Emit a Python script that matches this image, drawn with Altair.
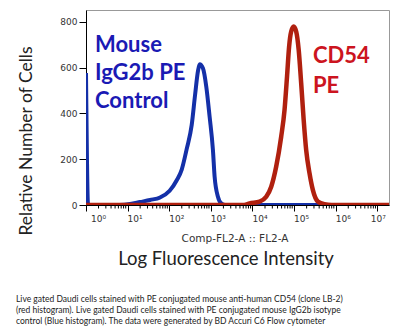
import math
import altair as alt
import pandas as pd

# ---- data (x in log10 units of FL2-A, y = cell counts) ----
blue_log = [0.00, 0.05, 0.80, 1.06, 1.30, 1.54, 1.78, 2.01, 2.18, 2.30, 2.42, 2.54,
            2.62, 2.69, 2.73, 2.81, 2.89, 2.97, 3.05, 3.09, 3.17, 3.25, 3.35, 7.28]
blue_count = [577, 0, 0, 4, 13, 22, 33, 62, 108, 155, 245, 350,
              480, 585, 615, 597, 517, 386, 240, 124, 36, 7, 0, 0]

red_log = [0.00, 3.80, 3.93, 4.17, 4.33, 4.45, 4.57, 4.69, 4.77, 4.83, 4.88, 4.93,
           4.99, 5.05, 5.11, 5.17, 5.23, 5.29, 5.37, 5.45, 5.57, 5.73, 5.90, 7.28]
red_count = [0, 0, 7, 15, 36, 80, 168, 299, 415, 561, 692, 758,
             780, 758, 678, 532, 372, 240, 139, 66, 15, 3, 0, 0]

decades = [0, 1, 2, 3, 4, 5, 6, 7]
decade_labels = ["10⁰", "10¹", "10²", "10³", "10⁴", "10⁵", "10⁶", "10⁷"]
y_ticks = list(range(0, 801, 50))

blue_label = ["Mouse", "IgG2b PE", "Control"]
red_label = ["CD54", "PE"]
y_title = "Relative Number of Cells"
x_subtitle = "Comp-FL2-A :: FL2-A"
x_title = "Log Fluorescence Intensity"
caption = [
    "Live gated Daudi cells stained with PE conjugated mouse anti-human CD54 (clone LB-2)",
    "(red histogram).  Live gated Daudi cells stained with PE conjugated mouse IgG2b isotype",
    "control (Blue histogram). The data were generated by BD Accuri C6 Flow cytometer",
]

# ---- minor tick positions on the log axis ----
minor_ticks = []
for k in decades[:-1]:
    for m in range(2, 10):
        minor_ticks.append(k + math.log10(m))

blue_df = pd.DataFrame({"lx": blue_log, "count": blue_count})
red_df = pd.DataFrame({"lx": red_log, "count": red_count})
minor_df = pd.DataFrame({"lx": minor_ticks})
lab_df = pd.DataFrame({"lx": decades, "lab": decade_labels})

x_scale = alt.Scale(domain=[0, 7.28], nice=False, zero=False)
y_scale = alt.Scale(domain=[0, 852], nice=False)

x_axis = alt.Axis(
    values=decades,
    labels=False,
    tickSize=6,
    domainColor="black",
    tickColor="black",
    grid=False,
    title=None,
)
y_axis = alt.Axis(
    values=y_ticks,
    labelExpr="datum.value % 200 === 0 ? datum.label : ''",
    tickSize={"condition": {"test": "datum.value % 200 === 0", "value": 7}, "value": 4},
    labelFont="DejaVu Sans",
    labelFontSize=9,
    labelColor="#333333",
    labelPadding=2,
    labelOverlap=False,
    domainColor="black",
    tickColor="black",
    grid=False,
    title=None,
)

blue_line = alt.Chart(blue_df).mark_line(
    color="#1430a8", strokeWidth=4, interpolate="monotone", clip=True, strokeJoin="round"
).encode(
    x=alt.X("lx:Q", scale=x_scale, axis=x_axis),
    y=alt.Y("count:Q", scale=y_scale, axis=y_axis),
)
red_line = alt.Chart(red_df).mark_line(
    color="#b0200f", strokeWidth=4.5, interpolate="monotone", clip=True, strokeJoin="round"
).encode(
    x=alt.X("lx:Q", scale=x_scale),
    y=alt.Y("count:Q", scale=y_scale),
)

minor = alt.Chart(minor_df).mark_rule(color="black", strokeWidth=1).encode(
    x=alt.X("lx:Q", scale=x_scale),
    y=alt.value(195),
    y2=alt.value(198.5),
)

def xlabel_layer(test, align, dx):
    return alt.Chart(lab_df).transform_filter(test).mark_text(
        font="DejaVu Sans", fontSize=9, color="#333333", align=align, baseline="top", dx=dx
    ).encode(
        x=alt.X("lx:Q", scale=x_scale),
        y=alt.value(205),
        text="lab:N",
    )

xlab_first = xlabel_layer("datum.lx === 0", "left", 5)
xlab_mid = xlabel_layer("datum.lx > 0 && datum.lx < 7", "left", 0)
xlab_last = xlabel_layer("datum.lx === 7", "center", 1)

def text_layer(txt, x, y, **kw):
    return alt.Chart(pd.DataFrame({"t": [txt]})).mark_text(**kw).encode(
        x=alt.value(x), y=alt.value(y), text="t:N"
    )

blue_text = alt.Chart(pd.DataFrame({"t": [blue_label]})).mark_text(
    font="Lato", fontWeight="bold", fontSize=22, color="#1a1ab4", align="left",
    baseline="alphabetic", lineHeight=28
).encode(x=alt.value(9), y=alt.value(42), text="t")

red_text = alt.Chart(pd.DataFrame({"t": [red_label]})).mark_text(
    font="Lato", fontWeight="bold", fontSize=22, color="#cc1420", align="left",
    baseline="alphabetic", lineHeight=30
).encode(x=alt.value(227), y=alt.value(53), text="t")

ytitle = text_layer(y_title, -59, 131, font="Lato", fontSize=17.5, color="#222222",
                    angle=270, align="center", baseline="middle")
xsub = text_layer(x_subtitle, 149, 229, font="DejaVu Sans", fontSize=10.5, color="#333333",
                  align="center", baseline="middle")
xtitle = text_layer(x_title, 140, 255, font="Lato", fontSize=18.5, color="#222222",
                    align="center", baseline="alphabetic")
cap_layers = [
    text_layer(line, -70, 292 + 11 * i, font="Lato", fontSize=8.5, color="#222222",
               align="left", baseline="alphabetic")
    for i, line in enumerate(caption)
]

chart = alt.layer(
    blue_line, red_line, minor, xlab_first, xlab_mid, xlab_last,
    blue_text, red_text, ytitle, xsub, xtitle, *cap_layers
).properties(
    width=303,
    height=195,
    padding={"left": 86, "top": 10, "right": 5, "bottom": 129},
    autosize=alt.AutoSizeParams(type="none"),
    background="white",
).configure_view(stroke="#999999", strokeWidth=1)

chart.save("out.html", embed_options={"renderer": "svg", "actions": False})
